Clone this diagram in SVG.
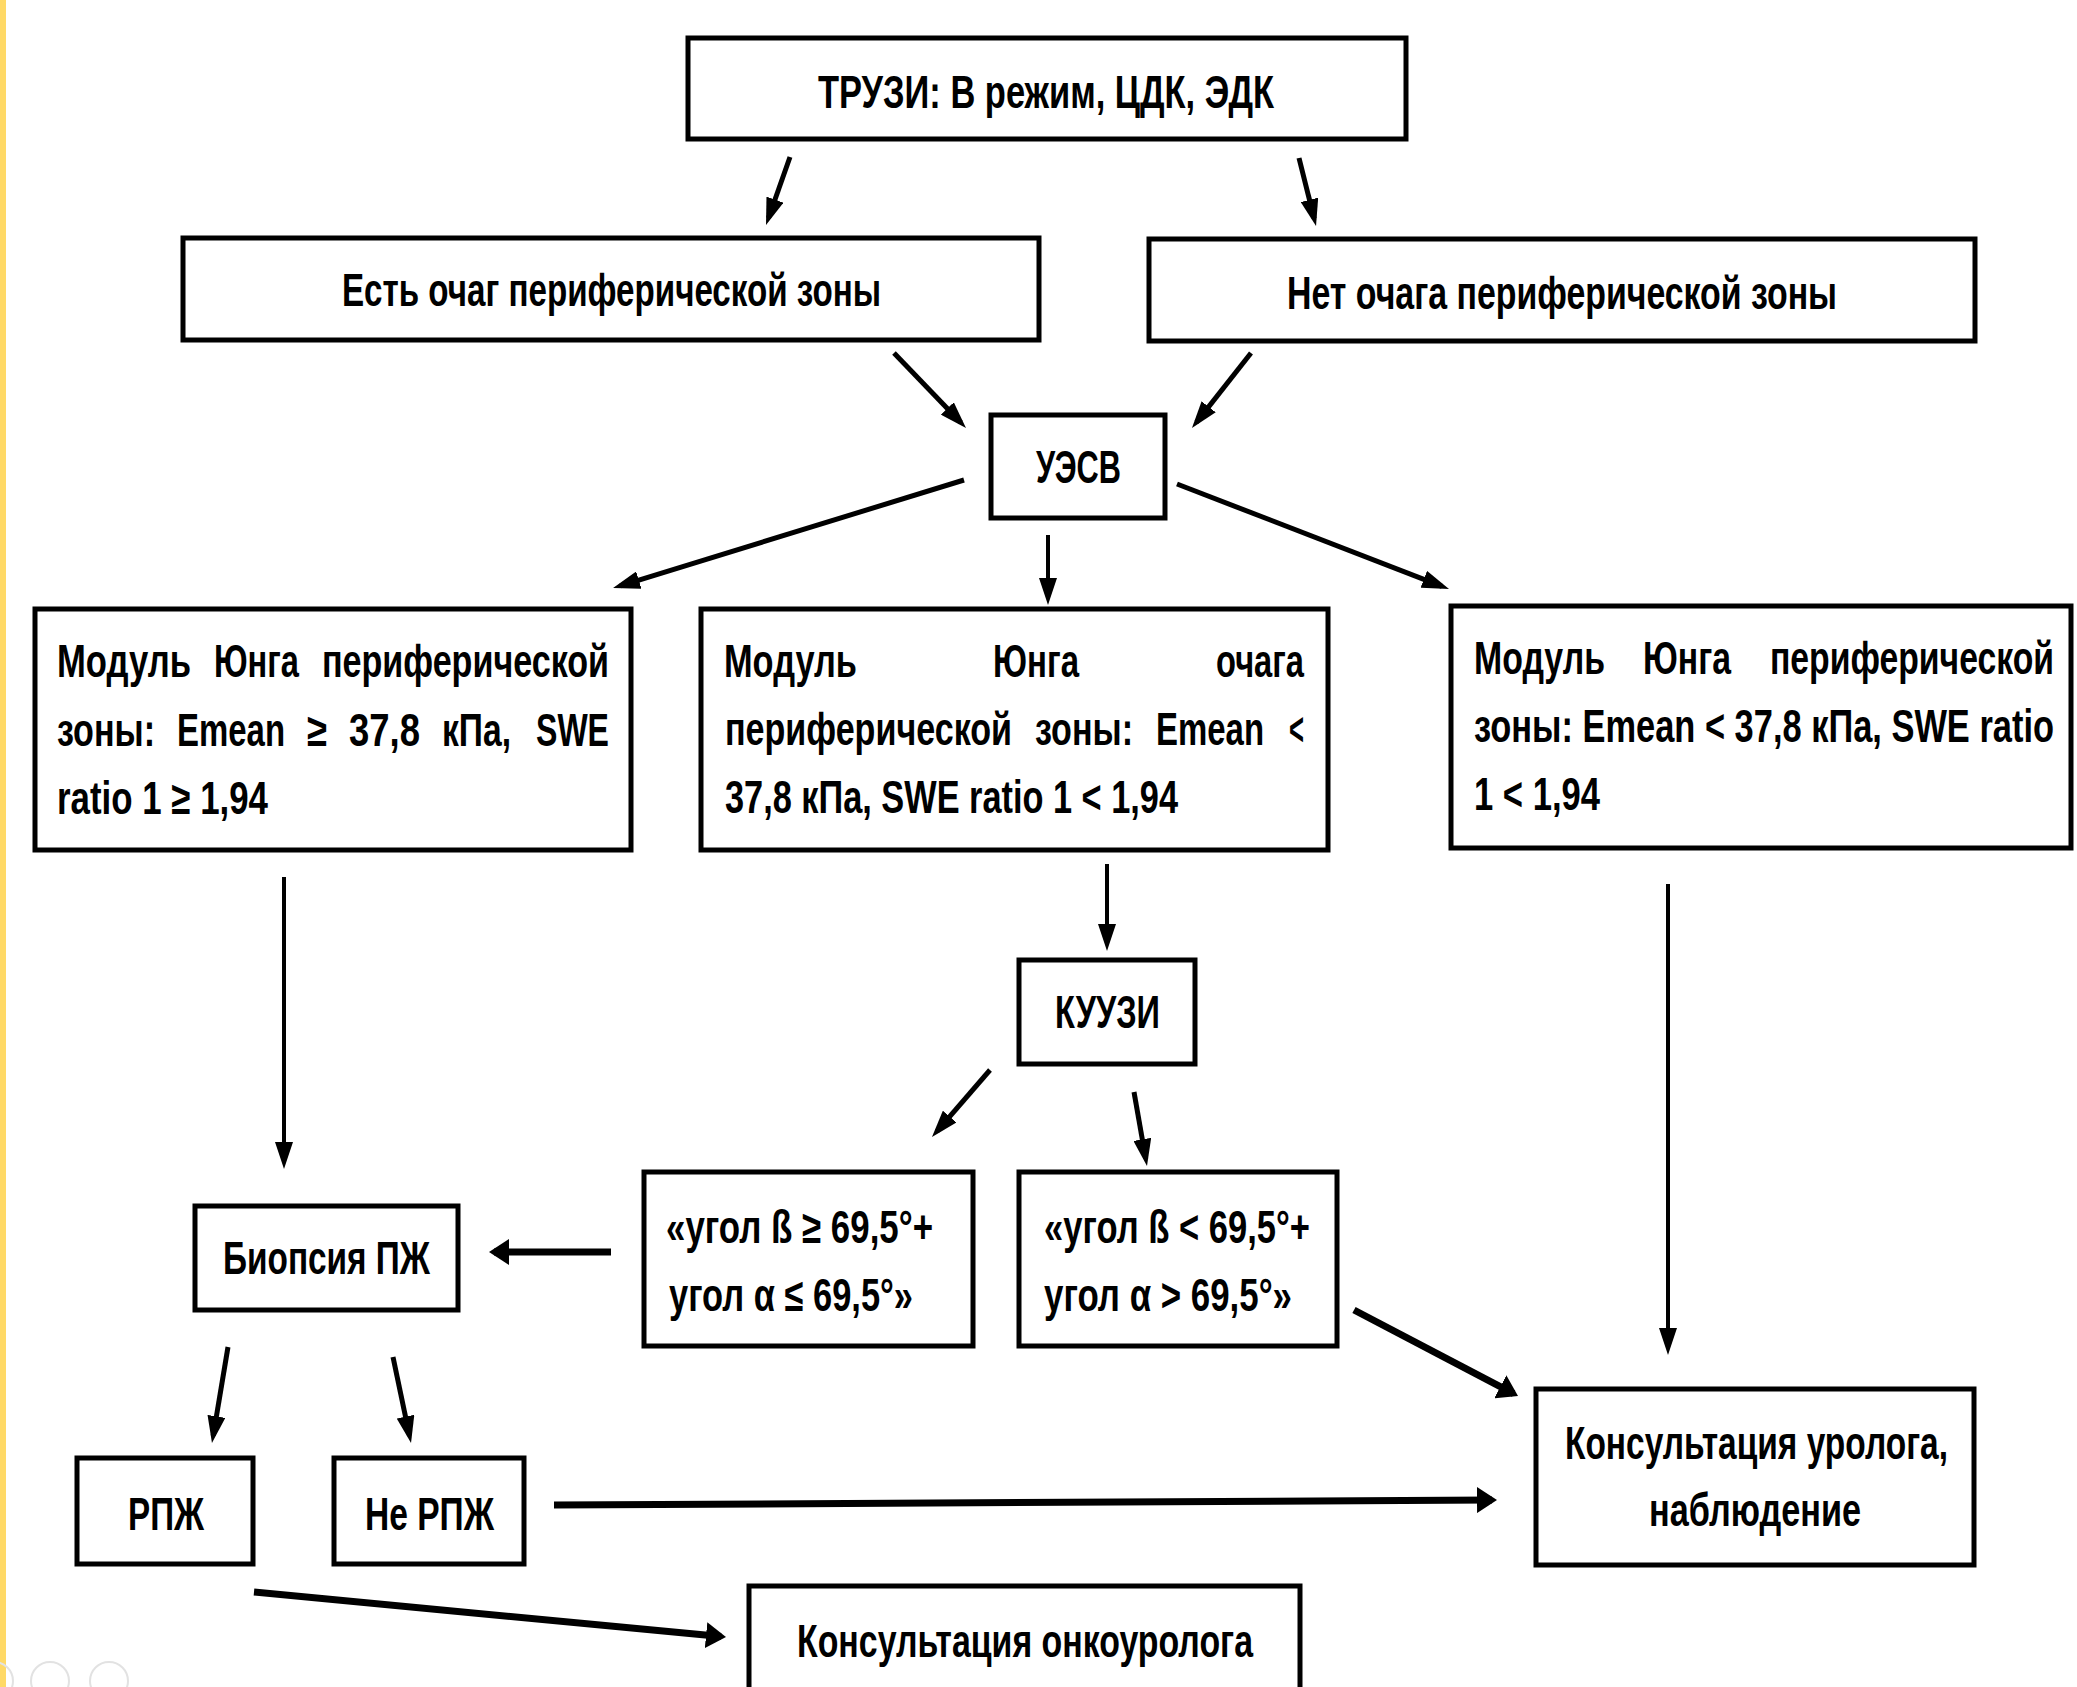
<svg xmlns="http://www.w3.org/2000/svg" width="2077" height="1687" viewBox="0 0 2077 1687">
<style>
.box{fill:#fff;stroke:#000;stroke-width:5}
.t{font-family:"Liberation Sans",Arial,sans-serif;font-weight:bold;font-size:46px;fill:#000}
.c{fill:none;stroke:#000;stroke-width:5}
.c.n{stroke-width:4}
.c.w{stroke-width:7}
.deco{fill:none;stroke:#e2e2e2;stroke-width:2}
</style>
<defs>
<marker id="ah" viewBox="0 0 27 18" refX="19.5" refY="9" markerWidth="27" markerHeight="18" markerUnits="userSpaceOnUse" orient="auto"><path d="M0,0 L27,9 L0,18 z" fill="#000"/></marker>
<marker id="ahw" viewBox="0 0 20 26" refX="15" refY="13" markerWidth="20" markerHeight="26" markerUnits="userSpaceOnUse" orient="auto"><path d="M0,0 L20,13 L0,26 z" fill="#000"/></marker>
</defs>
<rect x="0" y="0" width="2077" height="1687" fill="#fff"/>
<rect x="0" y="0" width="6" height="1687" fill="#FFD966"/>
<g id="deco">
<circle class="deco" cx="50" cy="1681" r="19"/>
<circle class="deco" cx="109" cy="1681" r="19"/>
<circle class="deco" cx="-6" cy="1681" r="19"/>
</g>

<g id="connectors">
<path class="c" d="M790,157 L768.5,218" marker-end="url(#ah)"/>
<path class="c" d="M1299,158 L1314.2,218.7" marker-end="url(#ah)"/>
<path class="c" d="M894,353 L960.8,422.6" marker-end="url(#ah)"/>
<path class="c" d="M1251,353 L1196.6,422.1" marker-end="url(#ah)"/>
<path class="c" d="M964,480 L620.2,585.8" marker-end="url(#ah)"/>
<path class="c n" d="M1048,535 L1048,597.5" marker-end="url(#ah)"/>
<path class="c" d="M1177,484 L1442,586.3" marker-end="url(#ah)"/>
<path class="c n" d="M284,877 L284,1161.5" marker-end="url(#ah)"/>
<path class="c n" d="M1107,864 L1107,943.5" marker-end="url(#ah)"/>
<path class="c" d="M990,1070 L936.9,1131.3" marker-end="url(#ah)"/>
<path class="c" d="M1134,1092 L1145.7,1158.6" marker-end="url(#ah)"/>
<path class="c w" d="M611,1252 L494,1252" marker-end="url(#ahw)"/>
<path class="c n" d="M1668,884 L1668,1347.5" marker-end="url(#ah)"/>
<path class="c w" d="M1354,1310 L1513.6,1393.7" marker-end="url(#ahw)"/>
<path class="c w" d="M554,1505 L1492,1500" marker-end="url(#ahw)"/>
<path class="c w" d="M254,1592 L721,1636.5" marker-end="url(#ahw)"/>
<path class="c" d="M228,1347 L213.2,1435.6" marker-end="url(#ah)"/>
<path class="c" d="M393,1357 L409.5,1435.7" marker-end="url(#ah)"/>
</g>

<g id="n-truzi">
<rect class="box" x="688" y="38" width="718" height="101"/>
<text class="t" x="818" y="108" textLength="456" lengthAdjust="spacingAndGlyphs">ТРУЗИ: В режим, ЦДК, ЭДК</text>
</g>
<g id="n-est">
<rect class="box" x="183" y="238" width="856" height="102"/>
<text class="t" x="342" y="306" textLength="539" lengthAdjust="spacingAndGlyphs">Есть очаг периферической зоны</text>
</g>
<g id="n-net">
<rect class="box" x="1149" y="239" width="826" height="102"/>
<text class="t" x="1287" y="309" textLength="550" lengthAdjust="spacingAndGlyphs">Нет очага периферической зоны</text>
</g>
<g id="n-uesv">
<rect class="box" x="991" y="415" width="174" height="103"/>
<text class="t" x="1036" y="483" textLength="85" lengthAdjust="spacingAndGlyphs">УЭСВ</text>
</g>
<g id="n-young-left">
<rect class="box" x="35" y="609" width="596" height="241"/>
<text class="t" x="57" y="677" textLength="134" lengthAdjust="spacingAndGlyphs">Модуль</text>
<text class="t" x="214" y="677" textLength="85" lengthAdjust="spacingAndGlyphs">Юнга</text>
<text class="t" x="322" y="677" textLength="287" lengthAdjust="spacingAndGlyphs">периферической</text>
<text class="t" x="57" y="746" textLength="98" lengthAdjust="spacingAndGlyphs">зоны:</text>
<text class="t" x="177" y="746" textLength="108" lengthAdjust="spacingAndGlyphs">Emean</text>
<text class="t" x="307" y="746" textLength="20" lengthAdjust="spacingAndGlyphs">≥</text>
<text class="t" x="349" y="746" textLength="71" lengthAdjust="spacingAndGlyphs">37,8</text>
<text class="t" x="442" y="746" textLength="69" lengthAdjust="spacingAndGlyphs">кПа,</text>
<text class="t" x="536" y="746" textLength="73" lengthAdjust="spacingAndGlyphs">SWE</text>
<text class="t" x="57" y="814" textLength="211" lengthAdjust="spacingAndGlyphs">ratio 1 ≥ 1,94</text>
</g>
<g id="n-young-mid">
<rect class="box" x="701" y="609" width="627" height="241"/>
<text class="t" x="724" y="677" textLength="133" lengthAdjust="spacingAndGlyphs">Модуль</text>
<text class="t" x="993" y="677" textLength="86" lengthAdjust="spacingAndGlyphs">Юнга</text>
<text class="t" x="1216" y="677" textLength="88" lengthAdjust="spacingAndGlyphs">очага</text>
<text class="t" x="725" y="745" textLength="287" lengthAdjust="spacingAndGlyphs">периферической</text>
<text class="t" x="1035" y="745" textLength="98" lengthAdjust="spacingAndGlyphs">зоны:</text>
<text class="t" x="1156" y="745" textLength="108" lengthAdjust="spacingAndGlyphs">Emean</text>
<text class="t" x="1289" y="745" textLength="15" lengthAdjust="spacingAndGlyphs">&lt;</text>
<text class="t" x="725" y="813" textLength="453" lengthAdjust="spacingAndGlyphs">37,8 кПа, SWE ratio 1 &lt; 1,94</text>
</g>
<g id="n-young-right">
<rect class="box" x="1451" y="606" width="620" height="242"/>
<text class="t" x="1474" y="674" textLength="131" lengthAdjust="spacingAndGlyphs">Модуль</text>
<text class="t" x="1643" y="674" textLength="88" lengthAdjust="spacingAndGlyphs">Юнга</text>
<text class="t" x="1770" y="674" textLength="284" lengthAdjust="spacingAndGlyphs">периферической</text>
<text class="t" x="1474" y="742" textLength="580" lengthAdjust="spacingAndGlyphs">зоны: Emean &lt; 37,8 кПа, SWE ratio</text>
<text class="t" x="1474" y="810" textLength="126" lengthAdjust="spacingAndGlyphs">1 &lt; 1,94</text>
</g>
<g id="n-kuuzi">
<rect class="box" x="1019" y="960" width="176" height="104"/>
<text class="t" x="1055" y="1028" textLength="105" lengthAdjust="spacingAndGlyphs">КУУЗИ</text>
</g>
<g id="n-biopsy">
<rect class="box" x="195" y="1206" width="263" height="104"/>
<text class="t" x="223" y="1274" textLength="207" lengthAdjust="spacingAndGlyphs">Биопсия ПЖ</text>
</g>
<g id="n-angle-ge">
<rect class="box" x="644" y="1172" width="329" height="174"/>
<text class="t" x="666" y="1243" textLength="267" lengthAdjust="spacingAndGlyphs">«угол ß ≥ 69,5°+</text>
<text class="t" x="669" y="1311" textLength="244" lengthAdjust="spacingAndGlyphs">угол α ≤ 69,5°»</text>
</g>
<g id="n-angle-lt">
<rect class="box" x="1019" y="1172" width="318" height="174"/>
<text class="t" x="1044" y="1243" textLength="266" lengthAdjust="spacingAndGlyphs">«угол ß &lt; 69,5°+</text>
<text class="t" x="1044" y="1311" textLength="248" lengthAdjust="spacingAndGlyphs">угол α &gt; 69,5°»</text>
</g>
<g id="n-urolog">
<rect class="box" x="1536" y="1389" width="438" height="176"/>
<text class="t" x="1565" y="1459" textLength="383" lengthAdjust="spacingAndGlyphs">Консультация уролога,</text>
<text class="t" x="1649" y="1526" textLength="212" lengthAdjust="spacingAndGlyphs">наблюдение</text>
</g>
<g id="n-rpzh">
<rect class="box" x="77" y="1458" width="176" height="106"/>
<text class="t" x="128" y="1530" textLength="76" lengthAdjust="spacingAndGlyphs">РПЖ</text>
</g>
<g id="n-ne-rpzh">
<rect class="box" x="334" y="1458" width="190" height="106"/>
<text class="t" x="365" y="1530" textLength="129" lengthAdjust="spacingAndGlyphs">Не РПЖ</text>
</g>
<g id="n-onko">
<rect class="box" x="749" y="1586" width="551" height="150"/>
<text class="t" x="797" y="1657" textLength="456" lengthAdjust="spacingAndGlyphs">Консультация онкоуролога</text>
</g>
</svg>
